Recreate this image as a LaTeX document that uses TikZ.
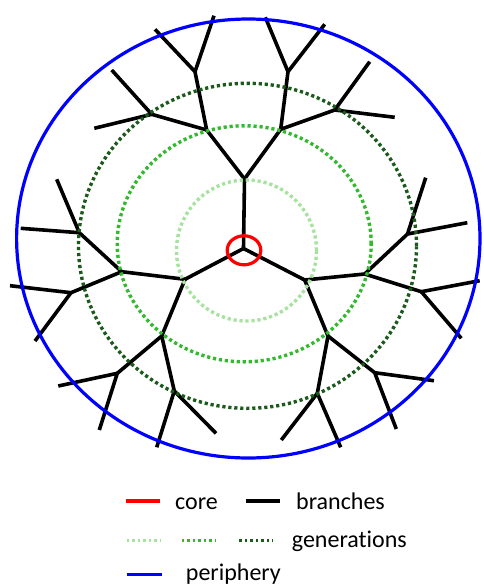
\documentclass[tikz,border=0pt]{standalone}
\usepackage{fontspec}
\setmainfont{Carlito}[Ligatures=NoCommon]
\definecolor{lgreen}{RGB}{168,226,160}
\definecolor{mgreen}{RGB}{50,185,45}
\definecolor{dgreen}{RGB}{28,90,28}
\tikzset{
  branch/.style={line width=3.6pt, black},
  periph/.style={line width=3.2pt, blue},
  corering/.style={line width=3.2pt, red},
  gen/.style={line width=3.4pt, dash pattern=on 3.2pt off 2.8pt},
  legline/.style={line width=3.2pt},
  legdot/.style={line width=2.8pt, dash pattern=on 2.6pt off 2.9pt},
  legtext/.style={anchor=base west, inner sep=0pt, font=\fontsize{24}{28}\selectfont}
}
\begin{document}
\begin{tikzpicture}[x=1pt,y=-1pt]
\useasboundingbox (0,0) rectangle (483,587);
% points
\coordinate (C) at (243.5,248.5);
\coordinate (A1) at (244.5,179);
\coordinate (A2) at (185,279.3);
\coordinate (A3) at (304.7,280);
\coordinate (B1) at (206.7,130);
\coordinate (B2) at (280.7,129.3);
\coordinate (B3) at (121.7,271.7);
\coordinate (B4) at (161.7,336);
\coordinate (B5) at (364.7,274);
\coordinate (B6) at (328,336);
\coordinate (D1) at (195,71.7);
\coordinate (D2) at (151.7,114.3);
\coordinate (D3) at (288,71.7);
\coordinate (D4) at (334.7,110);
\coordinate (D5) at (79.3,232.7);
\coordinate (D6) at (71,292.7);
\coordinate (D7) at (117.3,373.3);
\coordinate (D8) at (174.3,391);
\coordinate (D9) at (407.5,234);
\coordinate (D10) at (421.3,291.7);
\coordinate (D11) at (374.7,372.7);
\coordinate (D12) at (317.3,393.3);
\coordinate (E1a) at (155,29.3);   \coordinate (E1b) at (214,15.7);
\coordinate (E2a) at (111.7,70);   \coordinate (E2b) at (94.3,128.3);
\coordinate (E3a) at (265.3,17.3); \coordinate (E3b) at (324.7,24.3);
\coordinate (E4a) at (369.7,61.7); \coordinate (E4b) at (394.7,117.3);
\coordinate (E5a) at (56.7,179.3); \coordinate (E5b) at (20.7,228.3);
\coordinate (E6a) at (10,285.7);   \coordinate (E6b) at (35,341);
\coordinate (E7a) at (58.3,386);   \coordinate (E7b) at (99.3,430);
\coordinate (E8a) at (156.7,447.3);\coordinate (E8b) at (216,433.3);
\coordinate (E9a) at (425.7,177.7);\coordinate (E9b) at (467.3,222.7);
\coordinate (E10a) at (479.7,280.7);\coordinate (E10b) at (461.3,338.3);
\coordinate (E11a) at (434,380.7); \coordinate (E11b) at (396.3,429);
\coordinate (E12a) at (281.3,440); \coordinate (E12b) at (340.7,447.3);
% branches
\foreach \p/\c in {C/A1,C/A2,C/A3,A1/B1,A1/B2,A2/B3,A2/B4,A3/B5,A3/B6,
  B1/D1,B1/D2,B2/D3,B2/D4,B3/D5,B3/D6,B4/D7,B4/D8,B5/D9,B5/D10,B6/D11,B6/D12,
  D1/E1a,D1/E1b,D2/E2a,D2/E2b,D3/E3a,D3/E3b,D4/E4a,D4/E4b,D5/E5a,D5/E5b,D6/E6a,D6/E6b,
  D7/E7a,D7/E7b,D8/E8a,D8/E8b,D9/E9a,D9/E9b,D10/E10a,D10/E10b,D11/E11a,D11/E11b,D12/E12a,D12/E12b}
  \draw[branch] (\p) -- (\c);
% generations
\draw[gen, lgreen] (246.5,250.5) ellipse [x radius=70pt, y radius=70.5pt];
\draw[gen, mgreen] (244.2,243.8) ellipse [x radius=127pt, y radius=118pt];
\draw[gen, dgreen] (247.5,245.8) ellipse [x radius=169pt, y radius=162.5pt];
% core and periphery
\draw[corering] (244,250.3) ellipse [x radius=16.8pt, y radius=14.5pt];
\draw[periph] (248.3,238.5) ellipse [x radius=231.7pt, y radius=219.5pt];
% legend
\coordinate (L1a) at (126,501); \coordinate (L1b) at (160,501);
\coordinate (L2a) at (245.7,501); \coordinate (L2b) at (280,501);
\coordinate (L3a) at (126.7,540.7); \coordinate (L3b) at (161,540.7);
\coordinate (L4a) at (181.7,540.7); \coordinate (L4b) at (216,540.7);
\coordinate (L5a) at (239.3,540.7); \coordinate (L5b) at (273.3,540.7);
\coordinate (L6a) at (126.7,574.3); \coordinate (L6b) at (161.7,574.3);
\draw[legline, red] (L1a) -- (L1b);
\draw[legline, black] (L2a) -- (L2b);
\draw[legdot, lgreen] (L3a) -- (L3b);
\draw[legdot, mgreen] (L4a) -- (L4b);
\draw[legdot, dgreen] (L5a) -- (L5b);
\draw[legline, blue] (L6a) -- (L6b);
\node[legtext] (tcore) at (175,509.3) {core};
\node[legtext] (tbranch) at (296,509.3) {branches};
\node[legtext] (tgen) at (291.7,547.3) {generations};
\node[legtext] (tper) at (185.7,580.7) {periphery};
\end{tikzpicture}
\end{document}
